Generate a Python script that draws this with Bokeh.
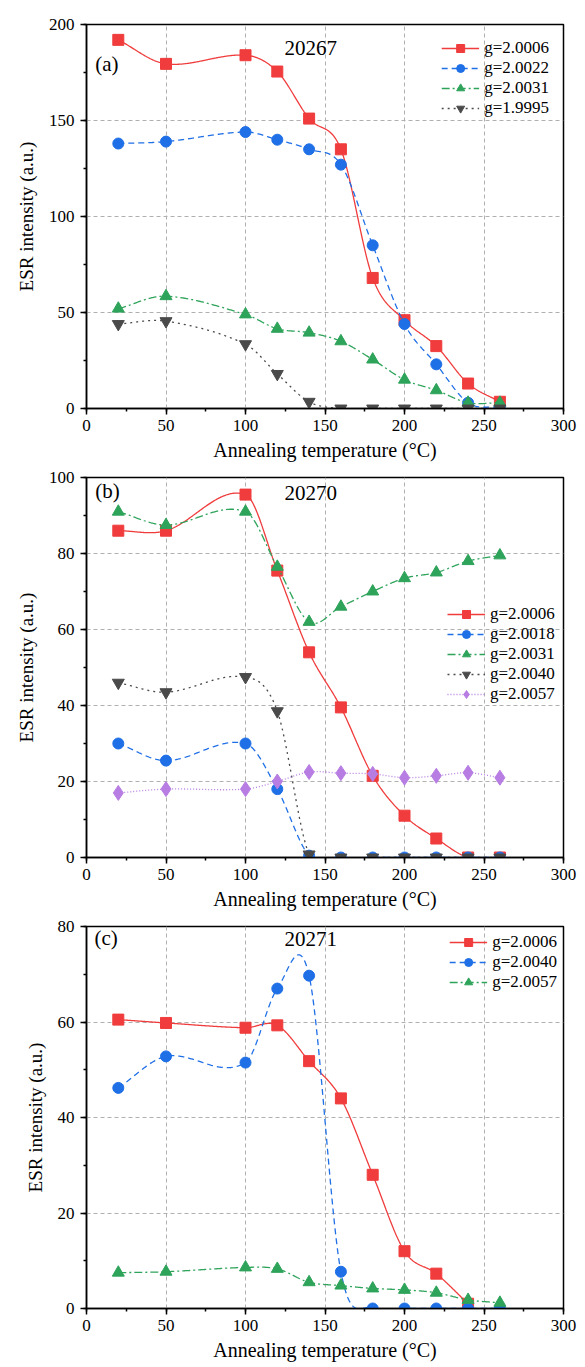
import numpy as np
from bokeh.plotting import figure
from bokeh.layouts import column
from bokeh.models import Range1d, SingleIntervalTicker, Label, Legend
from bokeh.embed import file_html
from bokeh.resources import INLINE

# ---------------- data ----------------
temps = [20, 50, 100, 120, 140, 160, 180, 200, 220, 240, 260]

# panel (a) sample 20267
a_g20006 = [192, 179.5, 184, 175.5, 151, 135, 68, 46, 32.5, 13, 3.5]
a_g20022 = [138, 139, 144, 140, 135, 127, 85, 44, 23, 3, 0.5]
a_g20031 = [52, 58.5, 49, 41.5, 39.5, 35, 25.5, 15, 9.5, 3, 3]
a_g19995 = [44, 45.5, 33.5, 18, 3.5, 0, 0, 0, 0, 0, 0]

# panel (b) sample 20270
b_g20006 = [86, 86, 95.5, 75.5, 54, 39.5, 21.5, 11, 5, 0, 0]
b_g20018 = [30, 25.5, 30, 18, 0.5, 0, 0, 0, 0, 0, 0]
b_g20031 = [91, 87.5, 91, 76.5, 62, 66, 70, 73.5, 75, 78, 79.5]
b_g20040 = [46, 43.5, 47.5, 38.5, 0.8, 0, 0, 0, 0, 0, 0]
b_g20057 = [17, 18, 18, 20, 22.5, 22.2, 22, 21, 21.5, 22.3, 21]

# panel (c) sample 20271
c_temps_red = [20, 50, 100, 120, 140, 160, 180, 200, 220, 240]
c_g20006 = [60.5, 59.8, 58.8, 59.3, 51.8, 44, 28, 12, 7.3, 1.0]
c_g20040 = [46.2, 52.8, 51.5, 67, 69.7, 7.7, 0, 0, 0, 0, 0]
c_g20057 = [7.5, 7.7, 8.6, 8.3, 5.5, 4.8, 4.2, 3.9, 3.3, 1.8, 1.2]

RED = "#f03c3c"
BLUE = "#1f6fe6"
GREEN = "#2ea35a"
GRAY = "#4a4a4a"
PURPLE = "#b77de3"
FONT = "Times New Roman, Liberation Serif, serif"


def smooth(xs, ys, n=500):
    """Cubic Hermite curve through the data points (finite-difference tangents)."""
    x = np.asarray(xs, float)
    y = np.asarray(ys, float)
    m = len(x)
    t = np.zeros(m)
    t[0] = (y[1] - y[0]) / (x[1] - x[0])
    t[-1] = (y[-1] - y[-2]) / (x[-1] - x[-2])
    t[1:-1] = (y[2:] - y[:-2]) / (x[2:] - x[:-2])
    xx = np.linspace(x[0], x[-1], n)
    idx = np.clip(np.searchsorted(x, xx, side="right") - 1, 0, m - 2)
    h = x[idx + 1] - x[idx]
    s = (xx - x[idx]) / h
    h00 = 2 * s ** 3 - 3 * s ** 2 + 1
    h10 = s ** 3 - 2 * s ** 2 + s
    h01 = -2 * s ** 3 + 3 * s ** 2
    h11 = s ** 3 - s ** 2
    yy = h00 * y[idx] + h10 * h * t[idx] + h01 * y[idx + 1] + h11 * h * t[idx + 1]
    return xx, yy


def make_fig(height, top, bottom, ymax, yint):
    p = figure(width=585, height=height, output_backend="svg", toolbar_location=None,
               x_range=Range1d(0, 300), y_range=Range1d(0, ymax),
               min_border_left=86, min_border_right=22, min_border_top=top,
               min_border_bottom=bottom)
    p.outline_line_color = "black"
    p.outline_line_width = 1.5
    p.background_fill_color = "white"
    p.border_fill_color = "white"
    p.xaxis.ticker = SingleIntervalTicker(interval=50, num_minor_ticks=2)
    p.yaxis.ticker = SingleIntervalTicker(interval=yint, num_minor_ticks=2)
    for ax in (p.xaxis, p.yaxis):
        ax.axis_line_width = 1.5
        ax.axis_line_color = "black"
        ax.major_tick_line_color = "black"
        ax.major_tick_line_width = 1.5
        ax.minor_tick_line_color = "black"
        ax.minor_tick_line_width = 1.5
        ax.major_tick_in = 0
        ax.major_tick_out = 6
        ax.minor_tick_in = 0
        ax.minor_tick_out = 3
        ax.major_label_text_font = FONT
        ax.major_label_text_font_size = "17px"
        ax.major_label_text_color = "black"
        ax.axis_label_text_font = FONT
        ax.axis_label_text_font_style = "normal"
        ax.axis_label_text_color = "black"
    p.xaxis.axis_label_text_font_size = "20px"
    p.yaxis.axis_label_text_font_size = "19px"
    p.xaxis.major_label_standoff = 5
    p.xaxis.axis_label_standoff = 5
    p.yaxis.major_label_standoff = 6
    p.yaxis.axis_label_standoff = 9
    p.xaxis.axis_label = "Annealing temperature (\u00b0C)"
    p.yaxis.axis_label = "ESR intensity (a.u.)"
    for g in (p.xgrid, p.ygrid):
        g.grid_line_color = "#b0b0b0"
        g.grid_line_dash = "4 3"
        g.grid_line_width = 1
    return p


def series(p, xs, ys, color, dash, marker, size, label):
    sx, sy = smooth(xs, ys)
    ln = p.line(sx, sy, line_color=color, line_width=1.3, line_dash=dash)
    sc = p.scatter(xs, ys, marker=marker, size=size, fill_color=color, line_color=color)
    return (label, [ln, sc])


def add_legend(p, items, location, margin, padding):
    leg = Legend(items=items, location=location)
    leg.label_text_font = FONT
    leg.label_text_font_size = "17px"
    leg.label_text_color = "black"
    leg.label_height = 20
    leg.glyph_height = 20
    leg.glyph_width = 38
    leg.spacing = 0
    leg.label_standoff = 5
    leg.padding = padding
    leg.margin = margin
    leg.background_fill_alpha = 0
    leg.border_line_alpha = 0
    p.add_layout(leg)


def add_text(p, x, y, txt, align="left"):
    p.add_layout(Label(x=x, y=y, text=txt, text_font=FONT, text_font_size="21px",
                       text_color="black", text_align=align, text_baseline="middle"))


# ---------------- panel (a) ----------------
pa = make_fig(467, 24, 59, 200, 50)
items_a = [
    series(pa, temps, a_g20006, RED, "solid", "square", 11, "g=2.0006"),
    series(pa, temps, a_g20022, BLUE, "6 4", "circle", 11, "g=2.0022"),
    series(pa, temps, a_g20031, GREEN, "8 3 2 3", "triangle", 12, "g=2.0031"),
    series(pa, temps, a_g19995, GRAY, "2 4", "inverted_triangle", 12, "g=1.9995"),
]
add_legend(pa, items_a, "top_right", 5, 9)
add_text(pa, 5.5, 179.5, "(a)")
add_text(pa, 141, 188, "20267", "center")

# ---------------- panel (b) ----------------
pb = make_fig(449, 10, 59, 100, 20)
items_b = [
    series(pb, temps, b_g20006, RED, "solid", "square", 11, "g=2.0006"),
    series(pb, temps, b_g20018, BLUE, "6 4", "circle", 11, "g=2.0018"),
    series(pb, temps, b_g20031, GREEN, "8 3 2 3", "triangle", 12, "g=2.0031"),
    series(pb, temps, b_g20040, GRAY, "2 4", "inverted_triangle", 12, "g=2.0040"),
    series(pb, temps, b_g20057, PURPLE, "1 2", "diamond", 15, "g=2.0057"),
]
add_legend(pb, items_b, (353, 145), 5, 8)
add_text(pb, 5.5, 96.5, "(b)")
add_text(pb, 141, 96, "20270", "center")

# ---------------- panel (c) ----------------
pc = make_fig(451, 10, 59, 80, 20)
items_c = [
    series(pc, c_temps_red, c_g20006, RED, "solid", "square", 11, "g=2.0006"),
    series(pc, temps, c_g20040, BLUE, "6 4", "circle", 11, "g=2.0040"),
    series(pc, temps, c_g20057, GREEN, "8 3 2 3", "triangle", 12, "g=2.0057"),
]
add_legend(pc, items_c, "top_right", 0, 6)
add_text(pc, 5, 77.5, "(c)")
add_text(pc, 141, 77.3, "20271", "center")

layout = column(pa, pb, pc, spacing=0)
open("out.html", "w").write(file_html(layout, INLINE))
